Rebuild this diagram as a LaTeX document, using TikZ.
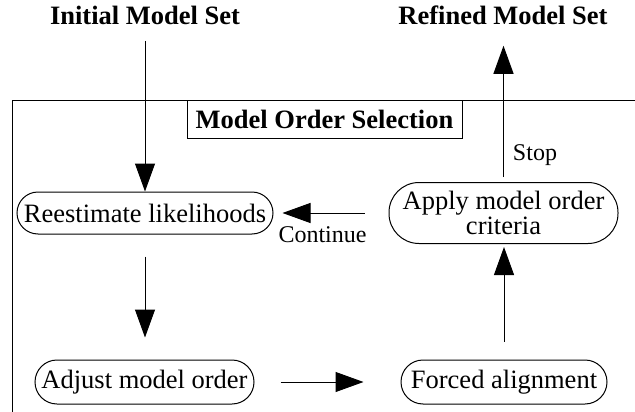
\documentclass[tikz,border=0pt]{standalone}
\usepackage{fontspec}
\setmainfont{Liberation Serif}
\usetikzlibrary{arrows.meta}
\begin{document}
\begin{tikzpicture}[x=1pt,y=-1pt,
  line width=1pt,
  txt/.style={font=\fontsize{26.5}{25}\selectfont, inner sep=0pt, align=center},
  title/.style={font=\fontsize{26.5}{25}\selectfont\bfseries, inner sep=0pt, anchor=base},
  lbl/.style={font=\fontsize{24}{24}\selectfont, inner sep=0pt},
  procbox/.style={draw, font=\fontsize{26.5}{25}\selectfont, align=center, inner sep=0pt},
  arr/.style={-{Triangle[length=28pt,width=20pt]}}
]
\useasboundingbox (0,0) rectangle (635,412);

% titles
\node[title] (init) at (145,25) {Initial Model Set};
\node[title] (refined) at (503,25) {Refined Model Set};

% frame
\coordinate (fr1) at (635,101);
\coordinate (fr2) at (12,101);
\coordinate (fr3) at (12,412);
\draw (fr1) -- (fr2) -- (fr3);

% section title box
\node[draw, font=\fontsize{26.5}{25}\selectfont\bfseries, minimum width=275pt, minimum height=37pt, inner sep=0pt] (mos) at (324.5,119.5) {Model Order Selection};

% process boxes
\node[procbox, minimum width=256pt, minimum height=42pt, rounded corners=21pt] (ree) at (145,213) {Reestimate likelihoods};
\node[procbox, minimum width=229pt, minimum height=61pt, rounded corners=30pt] (apply) at (503.5,213) {Apply model order\\criteria};
\node[procbox, minimum width=219pt, minimum height=44pt, rounded corners=22pt] (adjust) at (144.5,382) {Adjust model order};
\node[procbox, minimum width=206pt, minimum height=44pt, rounded corners=22pt] (forced) at (504,382) {Forced alignment};

% connectors
\draw[arr, shorten <=15pt] (init.south) -- (ree.north);
\draw[arr, shorten <=5pt, shorten >=20pt] (apply.north) -- (refined.south -| apply.north);
\draw[arr, shorten <=24pt, shorten >=9pt] (apply.west) -- (ree.east);
\draw[arr, shorten <=22pt, shorten >=22pt] (ree.south) -- (adjust.north -| ree.south);
\draw[arr, shorten <=26pt, shorten >=37pt] (adjust.east) -- (forced.west);
\draw[arr, shorten <=18pt, shorten >=3pt] (forced.north) -- (apply.south -| forced.north);

% labels
\node[lbl] (stop) at (535,155) {Stop};
\node[lbl] (cont) at (322.5,235) {Continue};
\end{tikzpicture}
\end{document}
